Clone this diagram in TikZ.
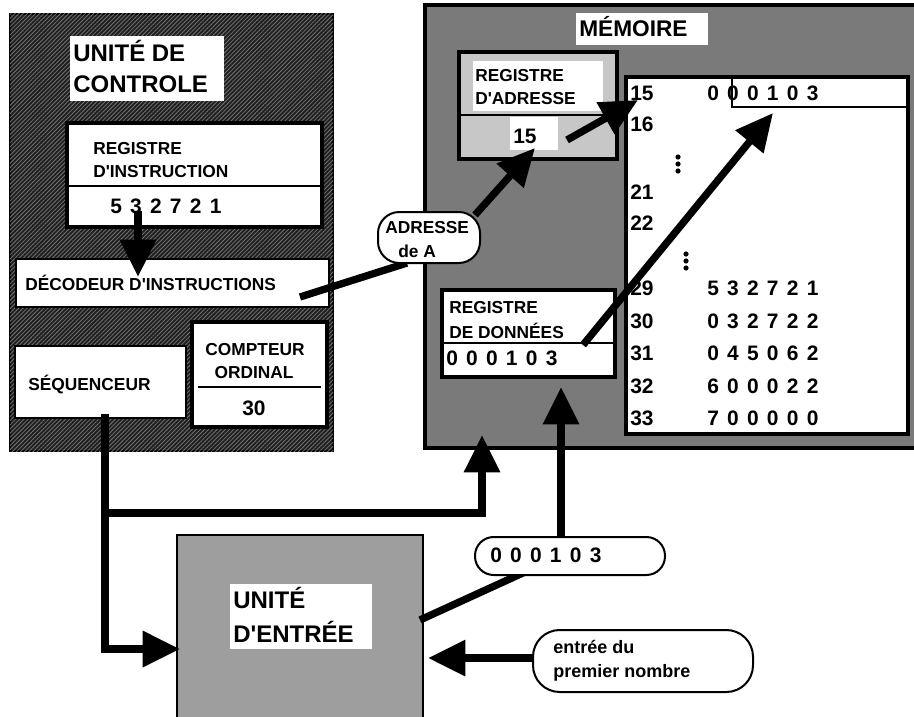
\documentclass[tikz,border=0pt]{standalone}
\usepackage{fontspec}
\newfontfamily\af{Liberation Sans}
\usetikzlibrary{fit,arrows.meta,patterns.meta}
\newcommand\bsz[1]{\af\bfseries\fontsize{#1}{#1}\selectfont}
\begin{document}
\begin{tikzpicture}[x=0.75pt,y=-0.75pt,
  every node/.style={inner sep=0pt},
  thinbox/.style={draw, line width=1.5pt, fill=white},
  thickbox/.style={draw, line width=3.4pt, fill=white},
  whitepad/.style={fill=white},
  lbl/.style={anchor=base west, font=\bsz{13}},
  big/.style={anchor=base west, font=\bsz{18}},
  num/.style={anchor=base west, font=\bsz{15.7}},
  digits/.style={num, execute at begin node={\spaceskip=6.2pt\relax}},
  divider/.style={line width=1.5pt},
  flow/.style={line width=5.5pt},
  arr/.style={flow, -{Triangle[length=28pt,width=26pt]}},
  bubble/.style={draw, line width=1.5pt, fill=white, rounded corners=#1},
  dot/.style={fill=black},
]
\useasboundingbox (0,0) rectangle (914,717);

% ---------- control unit ----------
\node[fit={(10,14)(333,451)}, draw, line width=1.5pt, fill=black!88,
      postaction={pattern={Lines[angle=45,distance=2.2pt,line width=0.6pt]}, pattern color=black!55}] (cu) {};
\node[fit={(70,36)(224,101)}, whitepad] (cutitle) {};
\node[big] (cut1) at (73,62) {UNITÉ DE};
\node[big] (cut2) at (73,93) {CONTROLE};

\node[fit={(67,123)(322,227)}, thickbox] (ri) {};
\draw[divider] (67,186) -- (322,186);
\node[lbl] (ri1) at (93,154) {REGISTRE};
\node[lbl] (ri2) at (93,177) {D'INSTRUCTION};
\node[digits] (riv) at (110,213) {5 3 2 7 2 1};

\node[fit={(16,259)(329,307)}, thinbox] (dec) {};
\node[lbl] (dect) at (25,290) {DÉCODEUR D'INSTRUCTIONS};

\node[fit={(15,346)(186,418)}, thinbox] (seq) {};
\node[lbl] (seqt) at (28,390) {SÉQUENCEUR};

\node[fit={(192,322)(327,427)}, thickbox] (co) {};
\draw[divider] (198,387) -- (321,387);
\node[lbl, anchor=base] (co1) at (255,355) {COMPTEUR};
\node[lbl, anchor=base] (co2) at (254,378) {ORDINAL};
\node[num, anchor=base] (cov) at (254,415) {30};

% ---------- memory ----------
\node[fit={(425,5)(920,448)}, draw, line width=2.4pt, fill=black!52] (mem) {};
\node[fit={(576,13)(708,45)}, whitepad] (memt) {};
\node[anchor=base west, font=\bsz{17}] (memtt) at (579,37) {MÉMOIRE};

\node[fit={(459,52)(617,159)}, thickbox, fill=black!22] (ra) {};
\draw[divider] (459,115) -- (617,115);
\node[fit={(473,61)(603,111)}, whitepad] (ralbl) {};
\node[lbl] (ra1) at (475,82) {REGISTRE};
\node[lbl] (ra2) at (475,104) {D'ADRESSE};
\node[fit={(510,117)(558,150)}, whitepad] (raval) {};
\node[num] (rav) at (513,143) {15};

\node[fit={(626,77)(908,434)}, thickbox] (tab) {};
\draw[divider] (732,77) -- (732,107) -- (908,107);
\foreach \a/\y in {15/100,16/132,21/199,22/230,29/295,30/328,31/360,32/393,33/425}
  \node[num] (adr\a) at (630,\y) {\a};
\foreach \a/\y/\v in {15/100/{0 0 0 1 0 3},29/295/{5 3 2 7 2 1},30/328/{0 3 2 7 2 2},
                      31/360/{0 4 5 0 6 2},32/393/{6 0 0 0 2 2},33/425/{7 0 0 0 0 0}}
  \node[digits] (val\a) at (707,\y) {\v};
\foreach \y in {157,164,171} \fill[dot] (678,\y) circle[radius=2.6];
\foreach \y in {254,261,268} \fill[dot] (686,\y) circle[radius=2.6];

\node[fit={(442,290)(615,377)}, thickbox] (rd) {};
\draw[divider] (442,343) -- (615,343);
\node[lbl] (rd1) at (449,313) {REGISTRE};
\node[lbl] (rd2) at (449,338) {DE DONNÉES};
\node[digits] (rdv) at (446,365) {0 0 0 1 0 3};

% ---------- input unit ----------
\node[fit={(177,535)(423,730)}, draw, line width=1.5pt, fill=black!38] (ue) {};
\node[fit={(230,584)(372,649)}, whitepad] (uet) {};
\node[big] (ue1) at (233,608) {UNITÉ};
\node[big] (ue2) at (233,642) {D'ENTRÉE};

% ---------- connector end points ----------
\coordinate (a1s) at (138,211);  \coordinate (a1e) at (138,277);
\coordinate (a2s) at (300,297);  \coordinate (a2e) at (407,263);
\coordinate (a3s) at (475,215);  \coordinate (a3e) at (535,148);
\coordinate (a4s) at (567,140);  \coordinate (a4e) at (638,100);
\coordinate (a5s) at (583,345);  \coordinate (a5e) at (773,113);
\coordinate (sqs) at (105,414);  \coordinate (sqk) at (105,649);
\coordinate (sqe) at (180,649);
\coordinate (brs) at (105,513);  \coordinate (brk) at (482,513);
\coordinate (bre) at (482,435);
\coordinate (b8s) at (561,537);  \coordinate (b8e) at (561,387);
\coordinate (b9s) at (525,572);  \coordinate (b9e) at (420,620);
\coordinate (b10s) at (533,658); \coordinate (b10e) at (428,658);

% ---------- connectors ----------
\draw[arr] (a1s) -- (a1e);
\draw[flow] (a2s) -- (a2e);
\draw[arr] (a3s) -- (a3e);
\draw[arr] (a4s) -- (a4e);
\draw[arr] (a5s) -- (a5e);
\draw[arr, line join=miter] (sqs) -- (sqk) -- (sqe);
\draw[arr, line join=miter] (brs) -- (brk) -- (bre);
\draw[arr] (b8s) -- (b8e);
\draw[flow] (b9s) -- (b9e);
\draw[arr] (b10s) -- (b10e);

% ---------- bubbles ----------
\node[fit={(378,212)(480,263)}, bubble=16pt] (badr) {};
\node[lbl] (badr1) at (385,233) {ADRESSE};
\node[lbl] (badr2) at (398,257) {de A};

\node[fit={(475,537)(665,575)}, bubble=14pt] (bval) {};
\node[digits] (bvalt) at (490,562) {0 0 0 1 0 3};

\node[fit={(533,630)(753,692)}, bubble=20pt] (bin) {};
\node[lbl, font=\bsz{13.5}] (bin1) at (553,653) {entrée du};
\node[lbl, font=\bsz{13.5}] (bin2) at (553,677) {premier nombre};
\end{tikzpicture}
\end{document}
